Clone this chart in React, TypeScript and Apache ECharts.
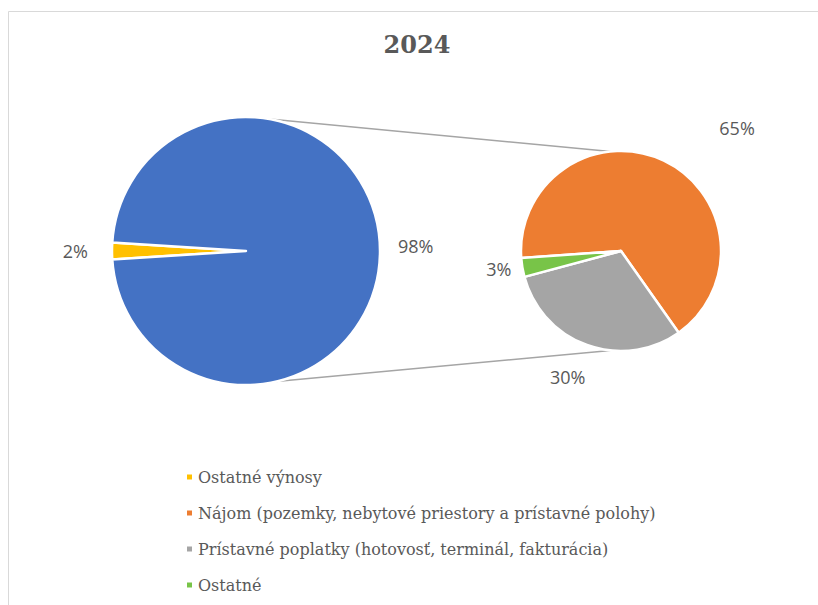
import React, { useEffect, useRef } from "react";
import * as echarts from "echarts";

const chartTitle = "2024";
const mainNames = ["Ostatné výnosy", "Nájom, poplatky a ostatné"];
const mainValues = [2, 98];
const mainColors = ["#FFC000", "#4472C4"];
const subNames = [
  "Nájom (pozemky, nebytové priestory a prístavné polohy)",
  "Prístavné poplatky (hotovosť, terminál, fakturácia)",
  "Ostatné",
];
const subValues = [65, 30, 3];
const subColors = ["#ED7D31", "#A5A5A5", "#78C448"];
const legendNames = [mainNames[0], ...subNames];

// layout constants
const BIG = { cx: 246, cy: 251, r: 134 };
const SMALL = { cx: 621, cy: 251, r: 100 };
const mainLabelLines = [
  { length: 9, length2: 10 },
  { length: 6, length2: 7 },
];
const subLabelLines = [
  { length: 36, length2: 35 },
  { length: 34, length2: -15 },
  { length: 6, length2: 0 },
];

function pt(c: { cx: number; cy: number; r: number }, deg: number) {
  const a = (deg * Math.PI) / 180;
  return [c.cx + c.r * Math.cos(a), c.cy - c.r * Math.sin(a)];
}

export default function App() {
  const ref = useRef<HTMLDivElement>(null);
  useEffect(() => {
    if (!ref.current) return;
    const chart = echarts.init(ref.current, undefined, { renderer: "svg" });
    const labelStyle = {
      show: true,
      position: "outside",
      formatter: "{c}%",
      fontFamily: "Open Sans",
      fontSize: 18,
      color: "#595959",
      distanceToLabelLine: 5,
    };
    const t1 = pt(BIG, 80);
    const t2 = pt(SMALL, 96);
    const b1 = pt(BIG, -77);
    const b2 = pt(SMALL, -96);
    const mainStart = 180 + (mainValues[0] / 100) * 180;
    chart.setOption({
      animation: false,
      backgroundColor: "#ffffff",
      title: {
        text: chartTitle,
        left: 412,
        top: 27,
        textAlign: "center",
        textStyle: {
          fontFamily: "DejaVu Serif",
          fontWeight: "bold",
          fontSize: 24,
          color: "#595959",
        },
      },
      legend: {
        data: legendNames,
        orient: "vertical",
        left: 180,
        top: 462,
        icon: "rect",
        itemWidth: 7,
        itemHeight: 7,
        itemGap: 16,
        selectedMode: false,
        textStyle: {
          fontFamily: "DejaVu Serif",
          fontSize: 16,
          color: "#595959",
          lineHeight: 20,
        },
      },
      graphic: [
        {
          type: "rect",
          shape: { x: 8.5, y: 11.5, width: 830, height: 620 },
          style: { fill: "none", stroke: "#d9d9d9", lineWidth: 1 },
          z: -1,
        },
        {
          type: "line",
          shape: { x1: t1[0], y1: t1[1], x2: t2[0], y2: t2[1] },
          style: { stroke: "#a5a5a5", lineWidth: 1.5 },
        },
        {
          type: "line",
          shape: { x1: b1[0], y1: b1[1], x2: b2[0], y2: b2[1] },
          style: { stroke: "#a5a5a5", lineWidth: 1.5 },
        },
      ],
      series: [
        {
          type: "pie",
          center: [BIG.cx, BIG.cy],
          radius: BIG.r,
          startAngle: mainStart,
          clockwise: true,
          avoidLabelOverlap: false,
          silent: true,
          label: labelStyle,
          labelLine: { show: false },
          labelLayout: (p: any) => (p.dataIndex === 1 ? { dy: -5 } : {}),
          itemStyle: { borderColor: "#ffffff", borderWidth: 2.5 },
          data: mainValues.map((v, i) => ({
            value: v,
            name: mainNames[i],
            itemStyle: { color: mainColors[i] },
            labelLine: { show: false, ...mainLabelLines[i] },
          })),
        },
        {
          type: "pie",
          center: [SMALL.cx, SMALL.cy],
          radius: SMALL.r,
          startAngle: 184,
          clockwise: true,
          avoidLabelOverlap: false,
          silent: true,
          label: labelStyle,
          labelLine: { show: false },
          itemStyle: { borderColor: "#ffffff", borderWidth: 2.5 },
          data: subValues.map((v, i) => ({
            value: v,
            name: subNames[i],
            itemStyle: { color: subColors[i] },
            labelLine: { show: false, ...subLabelLines[i] },
          })),
        },
      ],
    });
    return () => chart.dispose();
  }, []);
  return (
    <div
      ref={ref}
      style={{ position: "absolute", left: 0, top: 0, width: 818, height: 605 }}
    />
  );
}
